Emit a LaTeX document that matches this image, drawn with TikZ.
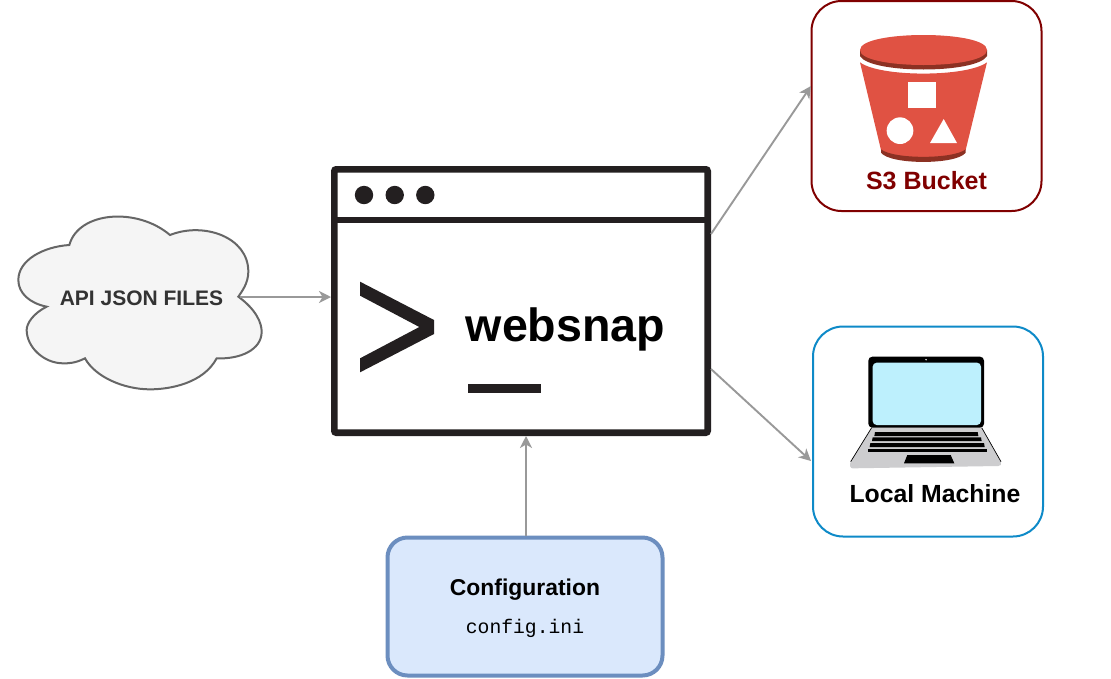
\documentclass[tikz,border=0pt]{standalone}
\usepackage{fontspec}
\setmainfont{Liberation Sans}
\setmonofont{Liberation Mono}
\usetikzlibrary{arrows.meta}
\definecolor{inkdark}{HTML}{231F20}
\definecolor{linkgray}{HTML}{999999}
\definecolor{cloudline}{HTML}{666666}
\definecolor{cloudfill}{HTML}{F5F5F5}
\definecolor{cloudtext}{HTML}{333333}
\definecolor{sthreered}{HTML}{800000}
\definecolor{localblue}{HTML}{0E8AC8}
\definecolor{cfgline}{HTML}{6C8EBF}
\definecolor{cfgfill}{HTML}{DAE8FC}
\definecolor{bucketred}{HTML}{E05243}
\definecolor{bucketdark}{HTML}{8C3123}
\definecolor{screenblue}{HTML}{BDF0FD}
\definecolor{laptopgray}{HTML}{CDCDCF}
\tikzset{
  link/.style={draw=linkgray,line width=1.9pt,-{Stealth[length=12pt,width=12pt,inset=3.5pt,fill=linkgray]}},
  lbl/.style={inner sep=0pt,anchor=base,font=\bfseries},
  card/.style={rectangle,rounded corners=30pt,minimum width=230pt,minimum height=210pt,fill=white,line width=2pt},
  zoomed/.style={x=0.33333pt,y=-0.33333pt},
}
\begin{document}
\begin{tikzpicture}[x=1pt,y=-1pt]
\useasboundingbox (0,0) rectangle (1111,678);
\fill[white] (0,0) rectangle (1111,678);

% cloud
\begin{scope}[shift={(0,200)},zoomed]
\draw[cloudline,fill=cloudfill,line width=2pt] (208,135)
  .. controls (235,35) and (410,20) .. (510,105)
  .. controls (610,65) and (745,110) .. (745,215)
  .. controls (745,250) and (725,275) .. (715,290)
  .. controls (770,330) and (785,370) .. (785,395)
  .. controls (785,450) and (720,478) .. (650,475)
  .. controls (610,550) and (510,568) .. (450,568)
  .. controls (370,568) and (285,530) .. (255,475)
  .. controls (225,490) and (205,490) .. (190,490)
  .. controls (130,490) and (80,440) .. (80,390)
  .. controls (80,370) and (100,340) .. (140,320)
  .. controls (90,310) and (55,280) .. (55,240)
  .. controls (55,180) and (130,140) .. (208,135) -- cycle;
\end{scope}
\node[lbl,text=cloudtext,font=\bfseries\fontsize{21}{24}\selectfont] (cloud) at (141.5,305) {API JSON FILES};
\coordinate (cloudtip) at (240,297);

% window
\node[rectangle,draw=inkdark,line width=6.6pt,rounded corners=2pt,minimum width=373.4pt,minimum height=263.4pt,inner sep=0pt,fill=white] (window) at (521,301) {};
\draw[inkdark,line width=6.4pt] (window.west |- 0,220) -- (window.east |- 0,220);
\fill[inkdark] (364,195) circle[radius=9.2pt] (394.7,195) circle[radius=9.2pt] (425.3,195) circle[radius=9.2pt];
\begin{scope}[shift={(320,160)},zoomed]
\fill[inkdark] (120,365) -- (342,480) -- (342,522) -- (120,637) -- (120,595) -- (298,501) -- (120,407) -- cycle;
\fill[inkdark] (445,672) rectangle (663,698);
\end{scope}
\node[lbl,font=\bfseries\fontsize{46.6}{50}\selectfont] (snap) at (565.5,341) {websnap};

% S3 card
\node[card,draw=sthreered,minimum width=230pt,minimum height=210pt] (s3) at (926.5,106) {};
\begin{scope}[shift={(800,0)},zoomed]
\fill[bucketred] (180,187) .. controls (240,232) and (500,232) .. (561,187) -- (497,450) .. controls (460,480) and (280,480) .. (243,450) -- cycle;
\fill[bucketdark] (243,448) .. controls (280,478) and (460,478) .. (497,448) -- (497,458) .. controls (470,495) and (270,495) .. (243,458) -- cycle;
\fill[bucketdark] (180,150) -- (561,150) -- (561,168) .. controls (530,222) and (210,222) .. (180,168) -- cycle;
\fill[bucketred] (180,150) .. controls (180,90) and (561,90) .. (561,150) .. controls (561,210) and (180,210) .. (180,150) -- cycle;
\fill[white] (325,246) rectangle (409,325);
\fill[white] (300,392) circle[radius=40];
\fill[white] (431,357) -- (471,429) -- (390,429) -- cycle;
\end{scope}
\node[lbl,text=sthreered,font=\bfseries\fontsize{25}{28}\selectfont] (s3label) at (926.5,189) {S3 Bucket};

% Local card
\node[card,draw=localblue] (local) at (928,431.5) {};
\begin{scope}[shift={(800,320)},zoomed]
\fill[laptopgray] (215,323) -- (545,323) -- (603,425) .. controls (606,433) and (602,438) .. (595,438) -- (158,445) .. controls (150,445) and (148,435) .. (152,425) -- cycle;
\draw[black,line width=0.7pt] (215,323) -- (152,425);
\draw[black,line width=0.7pt] (545,323) -- (603,425);
\fill[black,rounded corners=4pt] (205,110) rectangle (552,323);
\fill[screenblue,rounded corners=4pt] (218,128) rectangle (543,315);
\fill[white] (378,119) circle[radius=2.5];
\fill[black] (225,336) -- (533,336) -- (535,348) -- (223,348) -- cycle;
\fill[black] (218,352) -- (543,352) -- (545,363) -- (216,363) -- cycle;
\fill[black] (211,369) -- (552,369) -- (554,381) -- (209,381) -- cycle;
\fill[black] (204,387) -- (562,387) -- (562,397) -- (204,397) -- cycle;
\fill[black] (322,405) -- (452,405) -- (463,430) -- (312,430) -- cycle;
\end{scope}
\node[lbl,font=\bfseries\fontsize{24.8}{28}\selectfont] (locallabel) at (935,502) {Local Machine};

% config
\node[rectangle,rounded corners=20pt,draw=cfgline,fill=cfgfill,line width=4pt,minimum width=275pt,minimum height=138pt,inner sep=0pt] (config) at (525,606.5) {};
\node[lbl,font=\bfseries\fontsize{22.9}{26}\selectfont] (cfgtitle) at (525,595) {Configuration};
\node[lbl,font=\ttfamily\fontsize{19.7}{22}\selectfont] (cfgfile) at (525,633) {config.ini};

% connectors
\coordinate (wins3) at (711,234);
\coordinate (winlocal) at (711,369);
\coordinate (s3in) at (811,86);
\coordinate (localin) at (811,461);
\coordinate (cfgtop) at (526,536);
\coordinate (winbottom) at (526,436);
\coordinate (winwest) at (331,297);
\draw[link] (cloudtip) -- (winwest);
\draw[link] (wins3) -- (s3in);
\draw[link] (winlocal) -- (localin);
\draw[link] (cfgtop) -- (winbottom);
\end{tikzpicture}
\end{document}
